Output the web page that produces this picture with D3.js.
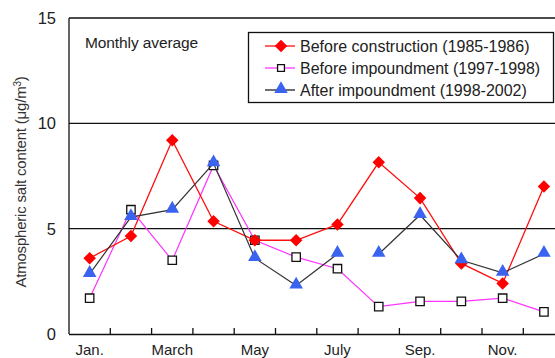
<!DOCTYPE html>
<html>
<head>
<meta charset="utf-8">
<script src="https://cdn.jsdelivr.net/npm/d3@7"></script>
<style>
  body { margin: 0; background: #fff; }
  svg { display: block; font-family: "Liberation Sans", Arial, sans-serif; }
</style>
</head>
<body>
<svg id="chart" width="555" height="358"></svg>
<script>
// data
let months = ['Jan', 'Feb', 'Mar', 'Apr', 'May', 'Jun', 'Jul', 'Aug', 'Sep', 'Oct', 'Nov', 'Dec']
let monthLabels = ['Jan.', '', 'March', '', 'May', '', 'July', '', 'Sep.', '', 'Nov.', '']
let beforeConstruction = [3.6, 4.65, 9.2, 5.35, 4.45, 4.45, 5.2, 8.15, 6.45, 3.35, 2.4, 7.0]
let beforeImpoundment = [1.7, 5.9, 3.5, 8.0, 4.45, 3.65, 3.1, 1.3, 1.55, 1.55, 1.7, 1.05]
let afterImpoundment = [2.85, 5.55, 5.9, 8.1, 3.6, 2.3, 3.8, 3.8, 5.65, 3.5, 2.9, 3.8]
// the black line is broken between July and August
let afterSegments = [[0, 6], [7, 11]]
let yTicks = [0, 5, 10, 15]

let plotLeft = 69, plotTop = 18, plotBottom = 334
let svg = d3.select('#chart')

let x = d3.scaleBand().domain(months).range([plotLeft, plotLeft + 12 * 41.3])
let y = d3.scaleLinear().domain([0, 15]).range([plotBottom, plotTop])

// grid lines at 5, 10, 15
svg.selectAll('line.grid')
  .data(yTicks.filter(d => d > 0))
  .join('line')
  .attr('class', 'grid')
  .attr('x1', plotLeft).attr('x2', 555)
  .attr('y1', d => y(d)).attr('y2', d => y(d))
  .attr('stroke', '#111').attr('stroke-width', 1.3)

// y axis
svg.append('line')
  .attr('x1', plotLeft).attr('x2', plotLeft)
  .attr('y1', plotTop).attr('y2', plotBottom)
  .attr('stroke', '#111').attr('stroke-width', 1.3)
svg.selectAll('text.ytick')
  .data(yTicks)
  .join('text')
  .attr('class', 'ytick')
  .attr('x', 56)
  .attr('y', d => y(d) + 6)
  .attr('text-anchor', 'end')
  .attr('font-size', 16.5)
  .attr('fill', '#222')
  .text(d => d)

// x axis
let xAxis = svg.append('g')
  .attr('transform', `translate(0,${plotBottom})`)
  .call(d3.axisBottom(x).tickSize(0).tickPadding(10).tickFormat((d, i) => monthLabels[i]))
xAxis.select('.domain').attr('stroke', '#111').attr('stroke-width', 1.3).attr('d', `M${plotLeft},0.5H555`)
xAxis.selectAll('text').attr('font-size', 15).attr('fill', '#222').attr('font-family', 'Liberation Sans, Arial, sans-serif')
svg.selectAll('line.xtick')
  .data(months.slice(1))
  .join('line')
  .attr('class', 'xtick')
  .attr('x1', d => x(d)).attr('x2', d => x(d))
  .attr('y1', plotBottom).attr('y2', plotBottom - 6)
  .attr('stroke', '#111').attr('stroke-width', 1.3)

// y label
svg.append('text')
  .attr('transform', `translate(26,182) rotate(-90)`)
  .attr('text-anchor', 'middle')
  .attr('font-size', 15)
  .attr('letter-spacing', -0.2)
  .attr('fill', '#333')
  .html('Atmospheric salt content (μg/m<tspan baseline-shift="super" font-size="10">3</tspan>)')

svg.append('text')
  .attr('x', 85).attr('y', 48)
  .attr('font-size', 15.5)
  .attr('fill', '#222')
  .attr('letter-spacing', -0.1)
  .text('Monthly average')

let cx = (d, i) => x(months[i]) + x.bandwidth() / 2
let line = d3.line().x(cx).y(d => y(d))

function lineBetween(values, from, to) {
  return d3.line().x(i => x(months[i]) + x.bandwidth() / 2).y(i => y(values[i]))(d3.range(from, to + 1))
}

let diamond = d3.symbol().type(d3.symbolDiamond2).size(100)
let square = d3.symbol().type(d3.symbolSquare2).size(90)
let triangle = d3.symbol().type(d3.symbolTriangle).size(80)

// before impoundment (magenta, open squares)
svg.append('path')
  .attr('d', line(beforeImpoundment))
  .attr('fill', 'none').attr('stroke', '#ff33ff').attr('stroke-width', 1.2)
svg.selectAll('path.sq')
  .data(beforeImpoundment)
  .join('path')
  .attr('class', 'sq')
  .attr('d', square)
  .attr('transform', (d, i) => `translate(${cx(d, i)},${y(d)})`)
  .attr('fill', '#fff').attr('stroke', '#111').attr('stroke-width', 1.3)

// before construction (red diamonds)
svg.append('path')
  .attr('d', line(beforeConstruction))
  .attr('fill', 'none').attr('stroke', '#ff1010').attr('stroke-width', 1.3)
svg.selectAll('path.dia')
  .data(beforeConstruction)
  .join('path')
  .attr('class', 'dia')
  .attr('d', diamond)
  .attr('transform', (d, i) => `translate(${cx(d, i)},${y(d)})`)
  .attr('fill', '#ff0000')

// after impoundment (black line, blue triangles)
afterSegments.forEach(s => {
  svg.append('path')
    .attr('d', lineBetween(afterImpoundment, s[0], s[1]))
    .attr('fill', 'none').attr('stroke', '#333').attr('stroke-width', 1.2)
})
svg.selectAll('path.tri')
  .data(afterImpoundment)
  .join('path')
  .attr('class', 'tri')
  .attr('d', triangle)
  .attr('transform', (d, i) => `translate(${cx(d, i)},${y(d) - 1})`)
  .attr('fill', '#3a64f0')

// legend
let legend = svg.append('g')
legend.append('rect')
  .attr('x', 248.5).attr('y', 32.5).attr('width', 305).attr('height', 70)
  .attr('fill', '#fff').attr('stroke', '#111').attr('stroke-width', 1.3)
let legendItems = [
  { label: 'Before construction (1985-1986)', color: '#ff1010', mark: 'dia' },
  { label: 'Before impoundment (1997-1998)', color: '#ff33ff', mark: 'sq' },
  { label: 'After impoundment (1998-2002)', color: '#222', mark: 'tri' },
]
legendItems.forEach((d, i) => {
  let ly = 46 + i * 22
  legend.append('line')
    .attr('x1', 265).attr('x2', 295).attr('y1', ly).attr('y2', ly)
    .attr('stroke', d.color).attr('stroke-width', 1.3)
  let m = legend.append('path')
  if (d.mark === 'dia') {
    m.attr('d', diamond).attr('transform', `translate(281,${ly})`).attr('fill', '#ff0000')
  } else if (d.mark === 'sq') {
    m.attr('d', d3.symbol().type(d3.symbolSquare2).size(60)).attr('transform', `translate(281,${ly})`)
      .attr('fill', '#fff').attr('stroke', '#111').attr('stroke-width', 1.3)
  } else {
    m.attr('d', triangle).attr('transform', `translate(281,${ly - 1})`).attr('fill', '#3a64f0')
  }
  legend.append('text')
    .attr('x', 300).attr('y', ly + 5.5)
    .attr('font-size', 16)
    .attr('fill', '#222')
    .attr('letter-spacing', 0)
    .text(d.label)
})
</script>
</body>
</html>
